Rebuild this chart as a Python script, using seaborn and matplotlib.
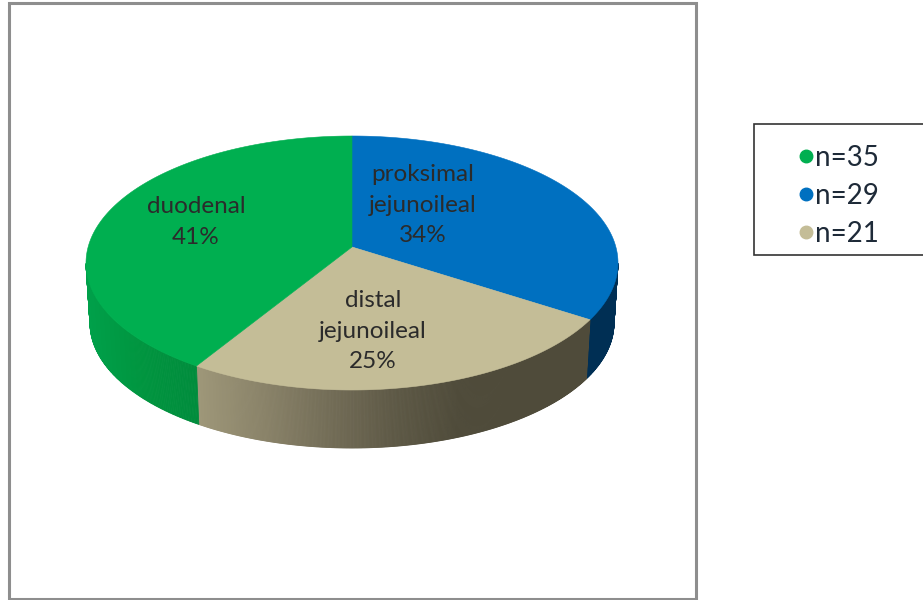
import numpy as np
import matplotlib
matplotlib.use("Agg")
import matplotlib.pyplot as plt
from matplotlib.lines import Line2D
from matplotlib.patches import Polygon, Rectangle
import seaborn as sns

# Patient counts per segment, clockwise from twelve o'clock
segments = ["proksimal\njejunoileal", "distal\njejunoileal", "duodenal"]
counts = [29, 21, 35]
top_colors = ["#0070C0", "#C4BD97", "#00AF50"]
side_stops = [
    ["#002F54", "#002F54"],
    ["#9E9779", "#8A8369", "#736D57", "#5E5946", "#4F4B3A", "#4F4B3A", "#4F4B3A"],
    ["#00A04A", "#00953F", "#008C3C"],
]
percent_labels = ["34%", "25%", "41%"]
label_anchor = [(423, 205), (373, 331), (196, 222)]

legend_labels = ["n=35", "n=29", "n=21"]
legend_colors = ["#00AF50", "#0070C0", "#C4BD97"]

# Geometry of the tilted disc
CX, CY, RX, RY = 352, 263, 266, 127
BOTTOM_CY, BOTTOM_RX, BOTTOM_RY = 323, 262, 125
TILT = 0.126

sns.set_theme(style="white")
plt.rcParams["font.family"] = ["Lato", "DejaVu Sans"]

fig = plt.figure(figsize=(9.23, 6.0), dpi=100)
ax = fig.add_axes([0, 0, 1, 1])
ax.set_xlim(0, 923)
ax.set_ylim(600, 0)
ax.axis("off")


def project(theta):
    """Perspective view of a unit circle, theta clockwise from the top."""
    u, v = np.sin(theta), np.cos(theta)
    d = 1 + TILT * v
    return u * np.sqrt(1 - TILT ** 2) / d, (v + TILT) / d


ax.add_patch(Rectangle((9, 3), 687, 596, fill=False, ec="#8E8E8E", lw=2.2))

edges = np.concatenate([[0], np.cumsum(counts)]) / sum(counts) * 2 * np.pi

# Rim first, so the top face covers its upper edge
for i in range(len(counts)):
    theta = np.linspace(edges[i], edges[i + 1], 400)
    up, vp = project(theta)
    keep = vp <= 0
    up, vp = up[keep], vp[keep]
    x_top, y_top = CX + RX * up, CY - RY * vp
    x_bot, y_bot = CX + BOTTOM_RX * up, BOTTOM_CY - BOTTOM_RY * vp
    ramp = sns.blend_palette(side_stops[i], n_colors=256)
    x_min, x_max = x_top.min(), x_top.max()
    for j in range(len(up) - 1):
        frac = (x_top[j] - x_min) / (x_max - x_min)
        quad = [(x_top[j], y_top[j]), (x_top[j + 1], y_top[j + 1]),
                (x_bot[j + 1], y_bot[j + 1]), (x_bot[j], y_bot[j])]
        c = ramp[int(frac * 255)]
        ax.add_patch(Polygon(quad, fc=c, ec=c, lw=0.6, zorder=2))

# Top face; the circle's centre lands at u=0, v=TILT under the projection
for i in range(len(counts)):
    theta = np.linspace(edges[i], edges[i + 1], 300)
    up, vp = project(theta)
    xs = np.concatenate([[CX], CX + RX * up])
    ys = np.concatenate([[CY - RY * TILT], CY - RY * vp])
    ax.add_patch(Polygon(np.column_stack([xs, ys]), fc=top_colors[i],
                         ec=top_colors[i], lw=0.4, zorder=3))

for seg, pct, (x, y) in zip(segments, percent_labels, label_anchor):
    ax.text(x, y, f"{seg}\n{pct}", ha="center", va="center", fontsize=17.5,
            color="#2B2B2B", linespacing=1.58, zorder=4)

# Legend box runs to the figure edge
ax.add_patch(Rectangle((754, 124), 170, 131, fill=False, ec="#333333", lw=1.2,
                       clip_on=False))
handles = [Line2D([], [], ls="none", marker="o", ms=9, mfc=c, mec=c)
           for c in legend_colors]
ax.legend(handles, legend_labels, loc="upper left", frameon=False,
          bbox_to_anchor=(792, 145), bbox_transform=ax.transData,
          fontsize=20, labelcolor="#1E2A38", handletextpad=-0.17,
          labelspacing=0.43, borderpad=0, borderaxespad=0, handlelength=1.0)

fig.savefig("out.png", dpi=100)
